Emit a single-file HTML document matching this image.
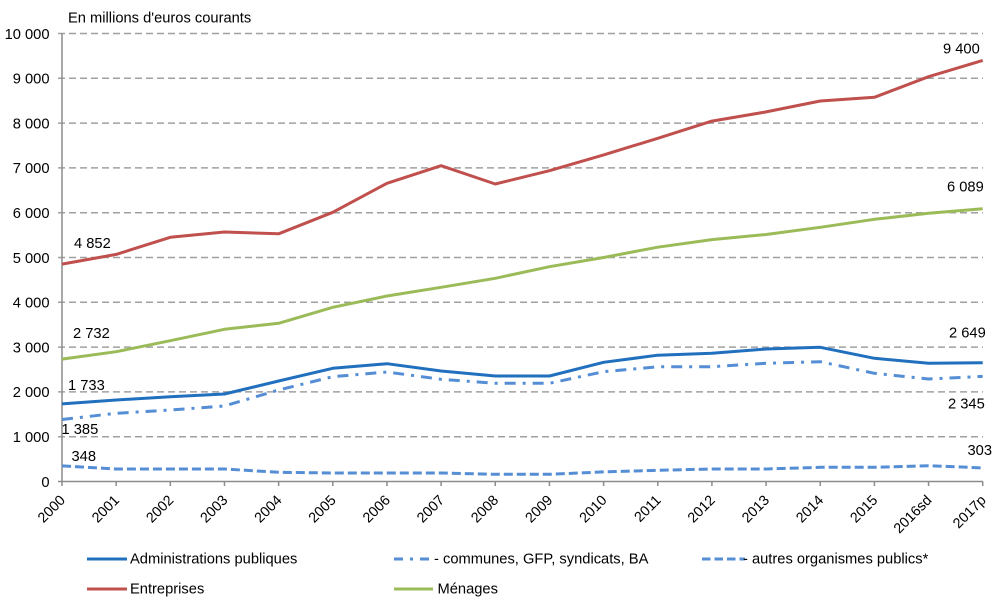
<!DOCTYPE html>
<html><head><meta charset="utf-8"><style>
html,body{margin:0;padding:0;background:#fff;}
svg{display:block;font-family:"Liberation Sans",Arial,sans-serif;}
</style></head><body>
<svg width="1000" height="601" viewBox="0 0 1000 601" xmlns="http://www.w3.org/2000/svg">
<text x="68" y="22.5" font-size="14.7" fill="#000">En millions d'euros courants</text>
<g stroke="#a0a0a0" stroke-width="1.5" stroke-dasharray="7 4" fill="none">
<line x1="58" y1="33.5" x2="983" y2="33.5"/>
<line x1="58" y1="78.3" x2="983" y2="78.3"/>
<line x1="58" y1="123.1" x2="983" y2="123.1"/>
<line x1="58" y1="167.9" x2="983" y2="167.9"/>
<line x1="58" y1="212.7" x2="983" y2="212.7"/>
<line x1="58" y1="257.5" x2="983" y2="257.5"/>
<line x1="58" y1="302.3" x2="983" y2="302.3"/>
<line x1="58" y1="347.1" x2="983" y2="347.1"/>
<line x1="58" y1="391.9" x2="983" y2="391.9"/>
<line x1="58" y1="436.7" x2="983" y2="436.7"/>
</g>
<g stroke="#8c8c8c" stroke-width="1.5" fill="none">
<line x1="62" y1="33.5" x2="62" y2="481.5"/>
<line x1="58" y1="481.5" x2="983" y2="481.5"/>
<path d="M62 481.5v4.5M116.16 481.5v4.5M170.32 481.5v4.5M224.48 481.5v4.5M278.64 481.5v4.5M332.8 481.5v4.5M386.96 481.5v4.5M441.12 481.5v4.5M495.28 481.5v4.5M549.44 481.5v4.5M603.6 481.5v4.5M657.76 481.5v4.5M711.92 481.5v4.5M766.08 481.5v4.5M820.24 481.5v4.5M874.4 481.5v4.5M928.56 481.5v4.5M982.72 481.5v4.5"/>
</g>
<g font-size="14.7" fill="#000" text-anchor="end">
<text x="49.5" y="38.8">10 000</text>
<text x="49.5" y="83.6">9 000</text>
<text x="49.5" y="128.4">8 000</text>
<text x="49.5" y="173.2">7 000</text>
<text x="49.5" y="218">6 000</text>
<text x="49.5" y="262.8">5 000</text>
<text x="49.5" y="307.6">4 000</text>
<text x="49.5" y="352.4">3 000</text>
<text x="49.5" y="397.2">2 000</text>
<text x="49.5" y="442">1 000</text>
<text x="49.5" y="486.8">0</text>
</g>
<g font-size="14.3" fill="#000" text-anchor="end">
<text transform="translate(66,501) rotate(-45)">2000</text>
<text transform="translate(120.16,501) rotate(-45)">2001</text>
<text transform="translate(174.32,501) rotate(-45)">2002</text>
<text transform="translate(228.48,501) rotate(-45)">2003</text>
<text transform="translate(282.64,501) rotate(-45)">2004</text>
<text transform="translate(336.8,501) rotate(-45)">2005</text>
<text transform="translate(390.96,501) rotate(-45)">2006</text>
<text transform="translate(445.12,501) rotate(-45)">2007</text>
<text transform="translate(499.28,501) rotate(-45)">2008</text>
<text transform="translate(553.44,501) rotate(-45)">2009</text>
<text transform="translate(607.6,501) rotate(-45)">2010</text>
<text transform="translate(661.76,501) rotate(-45)">2011</text>
<text transform="translate(715.92,501) rotate(-45)">2012</text>
<text transform="translate(770.08,501) rotate(-45)">2013</text>
<text transform="translate(824.24,501) rotate(-45)">2014</text>
<text transform="translate(878.4,501) rotate(-45)">2015</text>
<text transform="translate(932.56,501) rotate(-45)">2016sd</text>
<text transform="translate(986.72,501) rotate(-45)">2017p</text>
</g>
<g fill="none" stroke-width="3" stroke-linejoin="round">
<polyline stroke="#C0504D" points="62,264.1 116.16,254.4 170.32,237.3 224.48,232 278.64,233.8 332.8,212.3 386.96,183.3 441.12,165.7 495.28,184 549.44,170.7 603.6,154.9 657.76,138.3 711.92,121.1 766.08,111.9 820.24,101 874.4,97.3 928.56,76.7 982.72,60.4"/>
<polyline stroke="#9BBB59" points="62,359.1 116.16,351.7 170.32,340.7 224.48,329.3 278.64,323.3 332.8,307.3 386.96,296 441.12,287.3 495.28,278.3 549.44,266.7 603.6,257.5 657.76,247.2 711.92,239.6 766.08,234.5 820.24,227.3 874.4,219.3 928.56,213.3 982.72,208.7"/>
<polyline stroke="#2170BE" points="62,403.9 116.16,400 170.32,396.7 224.48,394 278.64,381 332.8,368.3 386.96,363.7 441.12,371 495.28,376 549.44,376 603.6,362.3 657.76,355.2 711.92,353.3 766.08,349 820.24,347.3 874.4,358.3 928.56,363.3 982.72,362.8"/>
<polyline stroke="#558ED5" stroke-dasharray="11 7 3 7" points="62,419.5 116.16,413.3 170.32,410 224.48,406 278.64,390 332.8,376.7 386.96,372 441.12,379.3 495.28,383.3 549.44,383.3 603.6,371.7 657.76,366.8 711.92,366.7 766.08,363.3 820.24,361.7 874.4,373.3 928.56,379 982.72,376.4"/>
<polyline stroke="#558ED5" stroke-dasharray="9 4" points="62,465.9 116.16,469 170.32,469 224.48,469 278.64,472.3 332.8,473 386.96,473 441.12,473 495.28,474.3 549.44,474.3 603.6,471.9 657.76,470.3 711.92,469 766.08,469 820.24,467.3 874.4,467.3 928.56,465.7 982.72,467.9"/>
</g>
<g font-size="14.7" fill="#000">
<text x="74" y="248">4 852</text>
<text x="73" y="338">2 732</text>
<text x="68" y="390">1 733</text>
<text x="61.5" y="434">1 385</text>
<text x="71.5" y="461">348</text>
<text x="943" y="53.3">9 400</text>
<text x="947" y="191.7">6 089</text>
<text x="949" y="337.3">2 649</text>
<text x="948" y="408.3">2 345</text>
<text x="967.5" y="455">303</text>
</g>
<g fill="none" stroke-width="3">
<line x1="87" y1="559" x2="127" y2="559" stroke="#2170BE"/>
<line x1="87" y1="589" x2="127" y2="589" stroke="#C0504D"/>
<line x1="394" y1="559" x2="433" y2="559" stroke="#558ED5" stroke-dasharray="9 7 3 7"/>
<line x1="394" y1="589" x2="433" y2="589" stroke="#9BBB59"/>
<line x1="702" y1="559" x2="745" y2="559" stroke="#558ED5" stroke-dasharray="8.5 4"/>
</g>
<g font-size="14.7" fill="#000">
<text x="130" y="563.3">Administrations publiques</text>
<text x="130" y="593.3">Entreprises</text>
<text x="434" y="563.3">- communes, GFP, syndicats, BA</text>
<text x="437.5" y="593.3">Ménages</text>
<text x="743" y="563.3">- autres organismes publics*</text>
</g>
</svg>
</body></html>
